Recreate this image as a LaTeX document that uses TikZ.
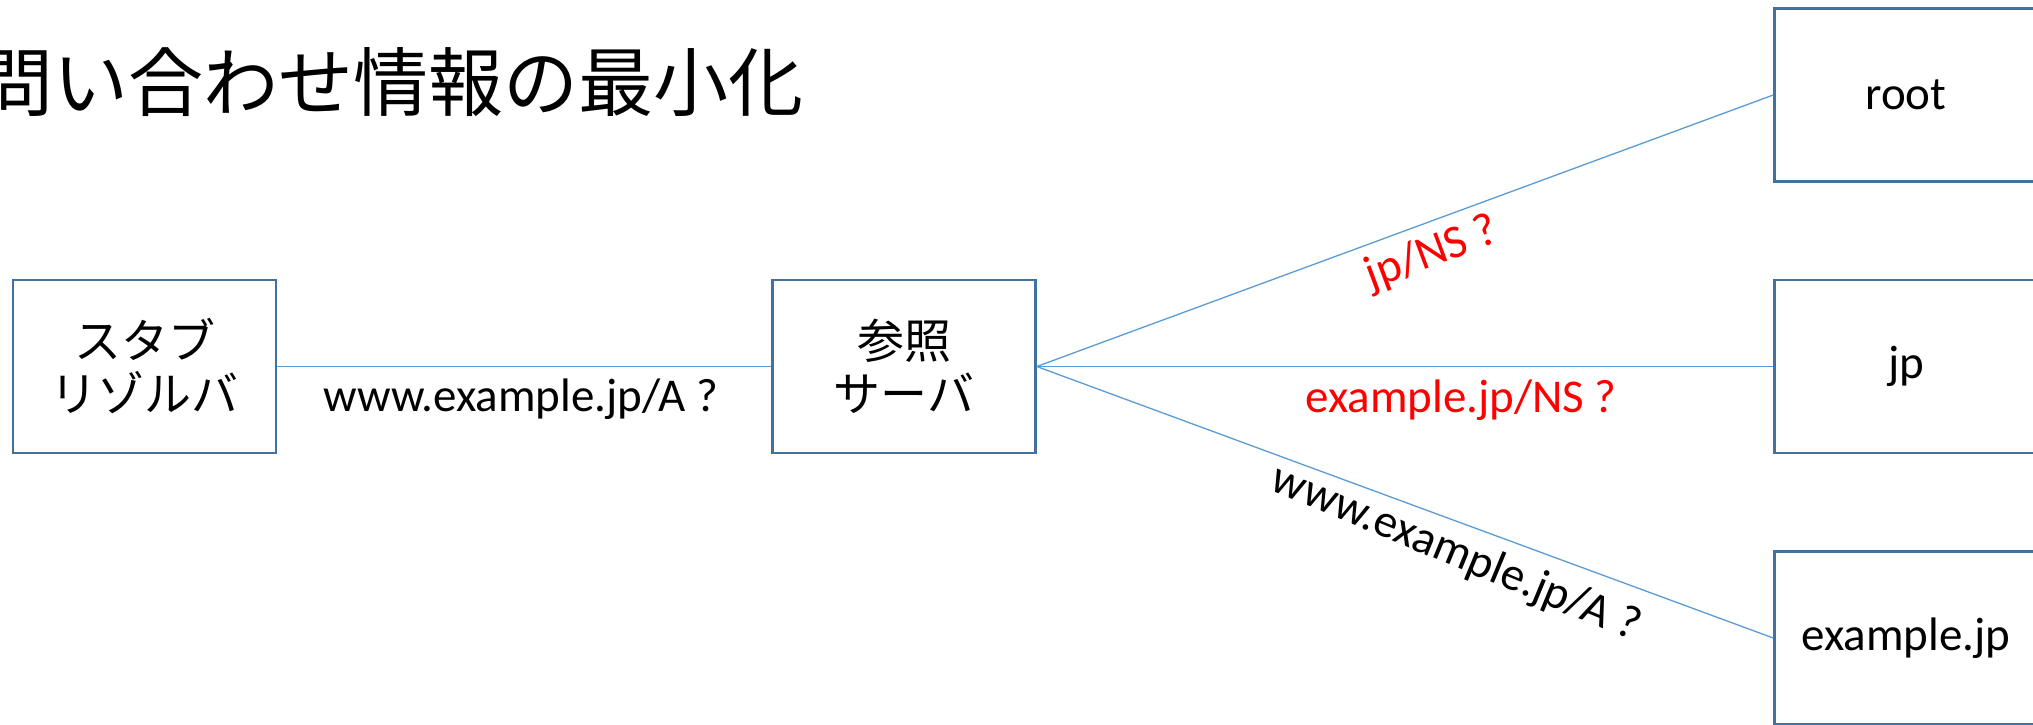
\documentclass[tikz,border=0pt]{standalone}
\usepackage{fontspec}
\setmainfont{Carlito}
\newfontfamily\jpfont{Noto Sans CJK JP}
\definecolor{boxblue}{RGB}{65,113,156}
\definecolor{lineblue}{RGB}{91,155,213}
\definecolor{lblred}{RGB}{255,0,0}
\begin{document}
\begin{tikzpicture}[x=1pt,y=-1pt,
  srv/.style={draw=boxblue, line width=2.5pt, minimum width=263pt, minimum height=173pt, inner sep=0pt, align=center, font=\fontsize{47}{53}\selectfont},
  jpsrv/.style={srv, font={\jpfont\fontsize{47}{53}\selectfont}},
  conn/.style={draw=lineblue, line width=1.3pt},
  lbl/.style={inner sep=0pt, font=\fontsize{47}{53}\selectfont},
]
\useasboundingbox (0,0) rectangle (2033,724);
\clip (0,0) rectangle (2033,724);

\node[anchor=west, inner sep=0pt, font={\jpfont\fontsize{75}{80}\selectfont}] (title) at (-22,82) {問い合わせ情報の最小化};

\node[jpsrv] (stub) at (144.5,366.5) {スタブ\\リゾルバ};
\node[jpsrv] (ref) at (904,366.5) {参照\\サーバ};
\node[srv] (root) at (1906,95) {root};
\node[srv] (jp) at (1906,366.5) {jp};
\node[srv] (ex) at (1906,638) {example.jp};

\draw[conn] (stub.east) -- (ref.west);
\draw[conn] (ref.east) -- (root.west);
\draw[conn] (ref.east) -- (jp.west);
\draw[conn] (ref.east) -- (ex.west);

\node[lbl] (l1) at (521,399) {www.example.jp/A ?};
\node[lbl, text=lblred, rotate=20.5] (l2) at (1432,254) {jp/NS ?};
\node[lbl, text=lblred] (l3) at (1461,400) {example.jp/NS ?};
\node[lbl, rotate=-22.5] (l4) at (1456,554) {www.example.jp/A ?};
\end{tikzpicture}
\end{document}
